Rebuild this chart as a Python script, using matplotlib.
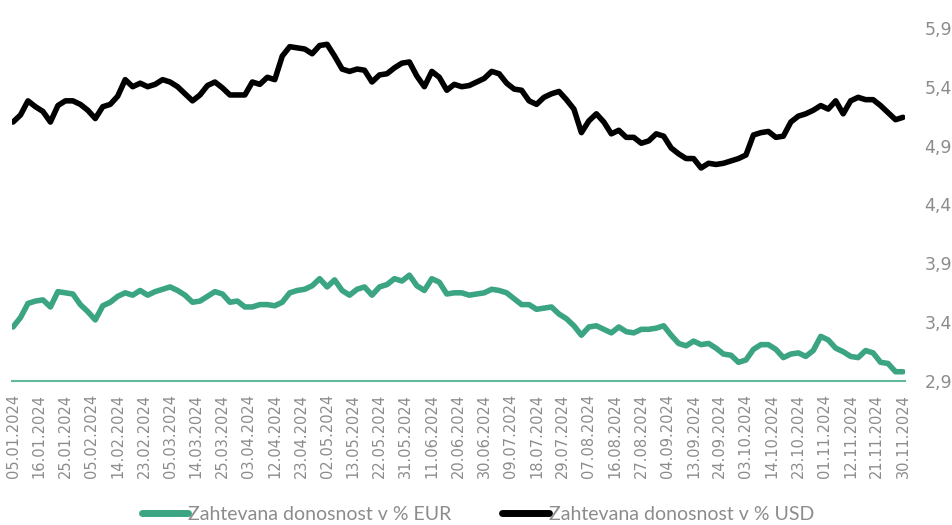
import numpy as np
import matplotlib
matplotlib.use("Agg")
import matplotlib.pyplot as plt

# dates shown on the axis (every 7th observation)
date_labels = ["05.01.2024", "16.01.2024", "25.01.2024", "05.02.2024", "14.02.2024",
               "23.02.2024", "05.03.2024", "14.03.2024", "25.03.2024", "03.04.2024",
               "12.04.2024", "23.04.2024", "02.05.2024", "13.05.2024", "22.05.2024",
               "31.05.2024", "11.06.2024", "20.06.2024", "30.06.2024", "09.07.2024",
               "18.07.2024", "29.07.2024", "07.08.2024", "16.08.2024", "27.08.2024",
               "04.09.2024", "13.09.2024", "24.09.2024", "03.10.2024", "14.10.2024",
               "23.10.2024", "01.11.2024", "12.11.2024", "21.11.2024", "30.11.2024"]

# yields, read every second observation
usd = [5.10, 5.16, 5.28, 5.23, 5.19, 5.10, 5.24, 5.28, 5.28, 5.25,
       5.20, 5.13, 5.23, 5.25, 5.32, 5.46, 5.40, 5.43, 5.40, 5.42,
       5.46, 5.44, 5.40, 5.34, 5.28, 5.33, 5.41, 5.44, 5.39, 5.33,
       5.33, 5.33, 5.44, 5.42, 5.48, 5.46, 5.66, 5.74, 5.73, 5.72,
       5.68, 5.75, 5.76, 5.66, 5.55, 5.53, 5.55, 5.54, 5.44, 5.50,
       5.51, 5.56, 5.60, 5.61, 5.49, 5.40, 5.53, 5.48, 5.37, 5.42,
       5.40, 5.41, 5.44, 5.47, 5.53, 5.51, 5.43, 5.38, 5.37, 5.28,
       5.25, 5.31, 5.34, 5.36, 5.29, 5.21, 5.01, 5.11, 5.17, 5.10,
       5.00, 5.03, 4.97, 4.97, 4.92, 4.94, 5.00, 4.98, 4.88, 4.83,
       4.79, 4.79, 4.71, 4.75, 4.74, 4.75, 4.77, 4.79, 4.82, 4.99,
       5.01, 5.02, 4.97, 4.98, 5.10, 5.15, 5.17, 5.20, 5.24, 5.21,
       5.28, 5.17, 5.28, 5.31, 5.29, 5.29, 5.24, 5.18, 5.12, 5.14]

eur = [3.36, 3.44, 3.56, 3.58, 3.59, 3.53, 3.66, 3.65, 3.64, 3.55,
       3.49, 3.42, 3.54, 3.57, 3.62, 3.65, 3.63, 3.67, 3.63, 3.66,
       3.68, 3.70, 3.67, 3.63, 3.57, 3.58, 3.62, 3.66, 3.64, 3.57,
       3.58, 3.53, 3.53, 3.55, 3.55, 3.54, 3.57, 3.65, 3.67, 3.68,
       3.71, 3.77, 3.70, 3.76, 3.67, 3.63, 3.68, 3.70, 3.63, 3.70,
       3.72, 3.77, 3.75, 3.80, 3.71, 3.67, 3.77, 3.74, 3.64, 3.65,
       3.65, 3.63, 3.64, 3.65, 3.68, 3.67, 3.65, 3.60, 3.55, 3.55,
       3.51, 3.52, 3.53, 3.47, 3.43, 3.37, 3.29, 3.36, 3.37, 3.34,
       3.31, 3.36, 3.32, 3.31, 3.34, 3.34, 3.35, 3.37, 3.29, 3.22,
       3.20, 3.24, 3.21, 3.22, 3.18, 3.13, 3.12, 3.06, 3.08, 3.17,
       3.21, 3.21, 3.17, 3.10, 3.13, 3.14, 3.11, 3.16, 3.28, 3.25,
       3.18, 3.15, 3.11, 3.10, 3.16, 3.14, 3.06, 3.05, 2.98, 2.98]

y_ticks = [2.9, 3.4, 3.9, 4.4, 4.9, 5.4, 5.9]

green = "#3ba482"
grey = "#8c8c8c"

x = np.arange(0, 2 * len(usd), 2)
label_pos = np.arange(0, 7 * len(date_labels), 7)

fig = plt.figure(figsize=(9.52, 5.25), dpi=100)
ax = fig.add_axes([0.0125, 0.274, 0.938, 0.673])

ax.plot(x, eur, color=green, lw=4, solid_joinstyle="round", solid_capstyle="round",
        label="Zahtevana donosnost v % EUR")
ax.plot(x, usd, color="black", lw=4, solid_joinstyle="round", solid_capstyle="round",
        label="Zahtevana donosnost v % USD")

ax.set_xlim(-0.3, 238.5)
ax.set_ylim(2.9, 5.9)
ax.set_yticks(y_ticks)
ax.set_yticklabels([f"{v:.1f}".replace(".", ",") for v in y_ticks])
ax.yaxis.tick_right()
ax.tick_params(axis="y", length=0, pad=14, labelsize=12.5, labelcolor=grey)

ax.set_xticks(label_pos)
ax.set_xticklabels(date_labels, rotation=90)
ax.tick_params(axis="x", length=0, pad=9, labelsize=10.5, labelcolor=grey)

for s in ["top", "right", "left"]:
    ax.spines[s].set_visible(False)
ax.spines["bottom"].set_color("#62b99d")
ax.spines["bottom"].set_linewidth(1.5)

leg = fig.legend(loc="lower center", bbox_to_anchor=(0.502, -0.03), ncol=2, frameon=False,
                 handlelength=2.4, handletextpad=0.0, columnspacing=2.6,
                 prop={"family": "Lato", "size": 14})
for t in leg.get_texts():
    t.set_color(grey)
for h in leg.legend_handles:
    h.set_linewidth(5)

fig.savefig("out.png", dpi=100)
